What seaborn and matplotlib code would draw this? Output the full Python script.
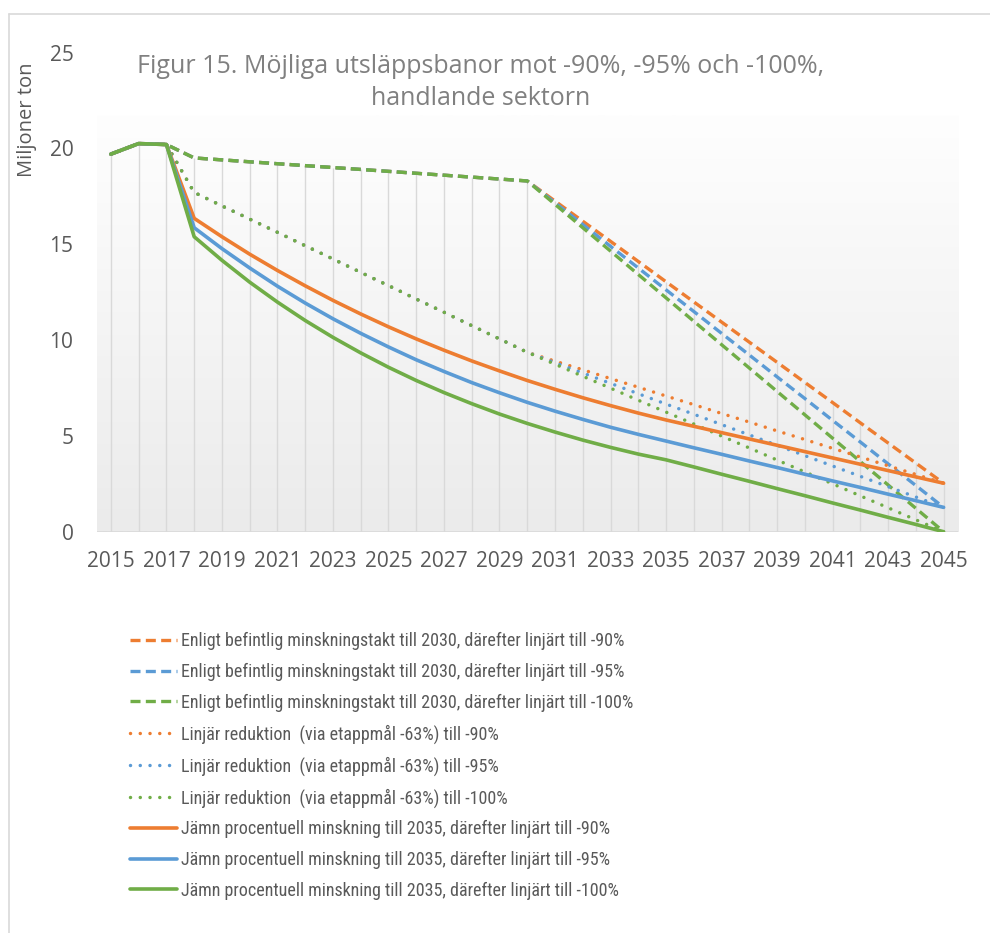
import numpy as np
import seaborn as sns
import matplotlib.pyplot as plt
from matplotlib.lines import Line2D
from matplotlib.colors import LinearSegmentedColormap

sns.set_style("white")
plt.rcParams['font.family'] = ['Open Sans', 'DejaVu Sans']

# years 2015-2045
years = list(range(2015, 2046))

# shared history 2015-2017
history = [19.7, 20.25, 20.2]

# "Enligt befintlig minskningstakt till 2030" part (2018-2030)
befintlig_to_2030 = [19.5, 19.4, 19.3, 19.2, 19.1, 19.0, 18.9, 18.8, 18.7, 18.6, 18.5, 18.4, 18.3]
# linear part 2031-2045
befintlig_90 = [17.25, 16.20, 15.15, 14.10, 13.04, 11.99, 10.94, 9.89, 8.84, 7.79, 6.74, 5.68, 4.63, 3.58, 2.53]
befintlig_95 = [17.16, 16.03, 14.89, 13.76, 12.62, 11.49, 10.35, 9.22, 8.08, 6.95, 5.81, 4.68, 3.54, 2.41, 1.27]
befintlig_100 = [17.08, 15.86, 14.64, 13.42, 12.20, 10.98, 9.76, 8.54, 7.32, 6.10, 4.88, 3.66, 2.44, 1.22, 0.0]

# "Linjär reduktion (via etappmål -63%)" 2018-2030
linjar_to_2030 = [17.7, 17.0, 16.31, 15.62, 14.92, 14.23, 13.53, 12.84, 12.14, 11.45, 10.75, 10.06, 9.36]
linjar_90 = [8.90, 8.45, 7.99, 7.54, 7.08, 6.63, 6.17, 5.72, 5.26, 4.81, 4.35, 3.90, 3.44, 2.99, 2.53]
linjar_95 = [8.82, 8.28, 7.74, 7.20, 6.66, 6.13, 5.59, 5.05, 4.51, 3.97, 3.43, 2.89, 2.35, 1.81, 1.27]
linjar_100 = [8.74, 8.11, 7.49, 6.86, 6.24, 5.62, 4.99, 4.37, 3.74, 3.12, 2.50, 1.87, 1.25, 0.62, 0.0]

# "Jämn procentuell minskning till 2035" 2018-2045
jamn_90 = [16.35, 15.39, 14.48, 13.63, 12.83, 12.07, 11.36, 10.69, 10.06, 9.47, 8.91, 8.39, 7.89,
           7.43, 6.99, 6.58, 6.19, 5.83, 5.50, 5.17, 4.84, 4.51, 4.18, 3.85, 3.52, 3.19, 2.86, 2.53]
jamn_95 = [15.86, 14.77, 13.76, 12.81, 11.93, 11.11, 10.35, 9.64, 8.97, 8.36, 7.78, 7.25, 6.75,
           6.29, 5.86, 5.45, 5.08, 4.73, 4.38, 4.04, 3.69, 3.35, 3.00, 2.65, 2.31, 1.96, 1.62, 1.27]
jamn_100 = [15.39, 14.16, 13.02, 11.98, 11.02, 10.14, 9.33, 8.58, 7.89, 7.26, 6.68, 6.14, 5.65,
            5.20, 4.78, 4.40, 4.05, 3.75, 3.38, 3.00, 2.63, 2.25, 1.88, 1.50, 1.13, 0.75, 0.38, 0.0]

labels = [
    "Enligt befintlig minskningstakt till 2030, därefter linjärt till -90%",
    "Enligt befintlig minskningstakt till 2030, därefter linjärt till -95%",
    "Enligt befintlig minskningstakt till 2030, därefter linjärt till -100%",
    "Linjär reduktion  (via etappmål -63%) till -90%",
    "Linjär reduktion  (via etappmål -63%) till -95%",
    "Linjär reduktion  (via etappmål -63%) till -100%",
    "Jämn procentuell minskning till 2035, därefter linjärt till -90%",
    "Jämn procentuell minskning till 2035, därefter linjärt till -95%",
    "Jämn procentuell minskning till 2035, därefter linjärt till -100%",
]

series = [
    history + befintlig_to_2030 + befintlig_90,
    history + befintlig_to_2030 + befintlig_95,
    history + befintlig_to_2030 + befintlig_100,
    history + linjar_to_2030 + linjar_90,
    history + linjar_to_2030 + linjar_95,
    history + linjar_to_2030 + linjar_100,
    history + jamn_90,
    history + jamn_95,
    history + jamn_100,
]

orange, blue, green = '#ED7D31', '#5B9BD5', '#70AD47'
colors = [orange, blue, green] * 3
dashed = (0, (3.0, 1.6))
dotted = (0, (0.01, 2.8))
styles = [dashed] * 3 + [dotted] * 3 + ['-'] * 3
widths = [2.4] * 3 + [2.5] * 3 + [2.6] * 3
caps = ['butt'] * 3 + ['round'] * 3 + ['round'] * 3

fig = plt.figure(figsize=(9.9, 9.33), dpi=100)
ax = fig.add_axes([0.098, 0.4301, 0.870, 0.5136])

# outer chart border (left and top)
fig.add_artist(Line2D([9 / 990, 9 / 990], [0, 1 - 14 / 933], color='#d9d9d9', lw=1.2))
fig.add_artist(Line2D([9 / 990, 1], [1 - 14 / 933, 1 - 14 / 933], color='#d9d9d9', lw=1.2))

ax.set_xlim(2014.5, 2045.53)
ax.set_ylim(0, 25)

# plot area gradient fill (white at top to light grey at bottom)
grad = np.linspace(0, 1, 256).reshape(-1, 1)
cmap = LinearSegmentedColormap.from_list('g', ['#ebebeb', '#fefefe'])
ax.imshow(grad, extent=[2014.5, 2045.53, 0, 21.75], aspect='auto', cmap=cmap,
          origin='lower', zorder=0)

# drop lines down from highest series
top = np.max(np.array(series), axis=0)
ax.vlines(years, 0, top, color='#d9d9d9', lw=1.0, zorder=1)
ax.axhline(0, color='#d9d9d9', lw=1.2, zorder=1)

for vals, col, ls, lw, cap, lab in zip(series, colors, styles, widths, caps, labels):
    sns.lineplot(x=years, y=vals, color=col, linestyle=ls, linewidth=lw,
                 dash_capstyle=cap, solid_capstyle='round', label=lab, ax=ax, zorder=3)

for s in ax.spines.values():
    s.set_visible(False)
ax.set_xticks(years[::2])
ax.set_xticklabels([str(y) for y in years[::2]])
ax.set_yticks([0, 5, 10, 15, 20, 25])
ax.tick_params(axis='both', length=0, labelsize=15, colors='#595959')
ax.tick_params(axis='x', pad=14)
ax.tick_params(axis='y', pad=17)
ax.set_xlabel('')
ax.set_ylabel('')

fig.text(27 / 990, 1 - 120 / 933, 'Miljoner ton', rotation=90, ha='center', va='center',
         fontsize=14.5, color='#595959')

fig.text(0.485, 1 - 54 / 933, 'Figur 15. Möjliga utsläppsbanor mot -90%, -95% och -100%,\nhandlande sektorn',
         ha='center', va='top', multialignment='center', fontsize=18, color='#808080', linespacing=1.35)

handles, labs = ax.get_legend_handles_labels()
ax.legend_.remove()
fig.legend(handles, labs, loc='upper left', bbox_to_anchor=(130 / 990, 1 - 632 / 933),
           frameon=False, borderpad=0, borderaxespad=0, handlelength=2.6, handletextpad=0.25,
           labelspacing=0.70,
           prop={'family': ['Roboto Condensed', 'Liberation Sans Narrow', 'Lato', 'DejaVu Sans'], 'size': 13},
           labelcolor='#595959')

fig.savefig('out.png', dpi=100)
